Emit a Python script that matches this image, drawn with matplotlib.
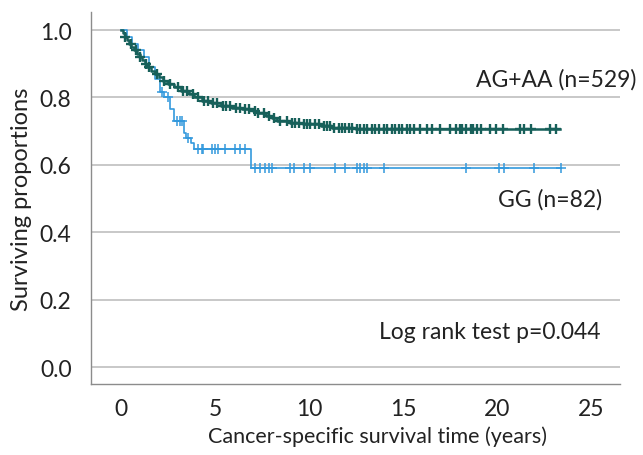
import numpy as np
from matplotlib import pyplot as plt

plt.rcParams['font.family'] = ['Lato', 'DejaVu Sans']

# Kaplan-Meier steps (time in years, surviving proportion)
ag_times = [0.0, 0.1, 0.2, 0.3, 0.4, 0.55, 0.7, 0.85, 1.0, 1.1, 1.25, 1.4, 1.6, 1.8,
            2.0, 2.2, 2.5, 2.8, 3.2, 3.6, 3.9, 4.3, 4.8, 5.3, 5.9, 6.4, 7.0, 7.3,
            7.7, 8.0, 8.3, 9.0, 9.7, 10.6, 11.2, 12.5]
ag_surv = [1.0, 0.99, 0.98, 0.97, 0.96, 0.95, 0.94, 0.93, 0.92, 0.91, 0.90, 0.89, 0.88, 0.87,
           0.86, 0.85, 0.84, 0.83, 0.82, 0.81, 0.80, 0.79, 0.785, 0.775, 0.77, 0.765, 0.76, 0.755,
           0.745, 0.74, 0.73, 0.725, 0.72, 0.715, 0.71, 0.705]
ag_end = 23.3
ag_censor = [0.2, 0.5, 0.8, 1.0, 1.3, 1.5, 1.9, 2.3, 2.6, 3.0, 3.3, 3.5, 3.8, 4.1, 4.4,
             4.6, 4.9, 5.1, 5.4, 5.6, 5.8, 6.1, 6.3, 6.6, 6.8, 7.1, 7.3,
             7.57, 7.84, 8.1, 8.46, 8.81, 9.08, 9.26, 9.43, 9.7, 9.88, 10.05, 10.32, 10.5,
             10.76, 10.94, 11.12, 11.29, 11.56, 11.74, 11.91, 12.09, 12.27, 12.53, 12.71,
             12.89, 13.07, 13.34, 13.51, 13.69, 13.96, 14.13, 14.4, 14.57, 14.75, 14.93,
             15.2, 15.37, 15.55, 15.9, 16.26, 16.53, 16.97, 17.5, 17.77, 18.0, 18.1, 18.3,
             18.6, 18.7, 18.9, 19.1, 19.6, 19.9, 20.3, 21.2, 21.4, 21.8, 22.8, 23.1]

gg_times = [0.0, 0.3, 0.6, 0.9, 1.2, 1.5, 1.8, 2.05, 2.3, 2.6, 2.8, 3.35, 3.45, 3.7, 3.85, 6.9]
gg_surv = [1.0, 0.98, 0.96, 0.94, 0.92, 0.89, 0.855, 0.815, 0.80, 0.765, 0.73, 0.695,
           0.68, 0.665, 0.648, 0.59]
gg_end = 23.3
gg_censor = [2.16, 2.5, 2.96, 3.14, 3.23, 3.58, 4.11, 4.29, 4.37, 4.82, 5.0, 5.17, 5.53,
             6.06, 6.33, 6.6, 7.13, 7.39, 7.66, 7.84, 8.02, 8.99, 9.17, 9.7, 10.05, 11.38,
             11.91, 12.53, 12.71, 12.89, 13.07, 13.96, 18.3, 20.07, 20.34, 21.93, 23.35]

ag_label = "AG+AA (n=529)"
gg_label = "GG (n=82)"
p_text = "Log rank test p=0.044"


def km_curve(ax, times, surv, end, censor, color, lw, mew, ms):
    t = list(times) + [end]
    s = list(surv) + [surv[-1]]
    ax.step(t, s, where='post', color=color, lw=lw, zorder=3)
    idx = np.searchsorted(times, censor, side='right') - 1
    cy = np.array(surv)[idx]
    ax.plot(censor, cy, linestyle='none', marker='+', color=color,
            markersize=ms, markeredgewidth=mew, zorder=4)


fig = plt.figure(figsize=(6.43, 4.56), dpi=100)
ax = fig.add_axes([0.1415, 0.156, 0.8225, 0.815])

km_curve(ax, gg_times, gg_surv, gg_end, gg_censor, '#3399dd', 1.2, 1.1, 7.5)
km_curve(ax, ag_times, ag_surv, ag_end, ag_censor, '#17605a', 1.8, 1.7, 7)

ax.set_xlim(-1.6, 26.5)
ax.set_ylim(-0.05, 1.053)
ax.set_xticks([0, 5, 10, 15, 20, 25])
ax.set_yticks([0.0, 0.2, 0.4, 0.6, 0.8, 1.0])
ax.set_yticklabels(['0.0', '0.2', '0.4', '0.6', '0.8', '1.0'])
ax.tick_params(length=0, labelsize=16.5, colors='#222222')
ax.tick_params(axis='y', pad=14)
ax.tick_params(axis='x', pad=10)
ax.grid(axis='y', color='#c8c8c8', lw=1.4)
ax.set_axisbelow(True)
for side in ['top', 'right']:
    ax.spines[side].set_visible(False)
for side in ['left', 'bottom']:
    ax.spines[side].set_color('#8c8c8c')
    ax.spines[side].set_linewidth(1.0)

ax.set_xlabel("Cancer-specific survival time (years)", fontsize=15.5, color='#222222')
ax.xaxis.set_label_coords(0.5425, -0.112)
ax.set_ylabel("Surviving proportions", fontsize=17, color='#222222')
ax.yaxis.set_label_coords(-0.1115, 0.5)

ax.text(23.1, 0.855, ag_label, fontsize=16.5, ha='center', va='center', color='#222222', clip_on=False)
ax.text(22.8, 0.50, gg_label, fontsize=16.5, ha='center', va='center', color='#222222')
ax.text(19.6, 0.104, p_text, fontsize=16.5, ha='center', va='center', color='#222222')

fig.savefig('out.png', dpi=100)
